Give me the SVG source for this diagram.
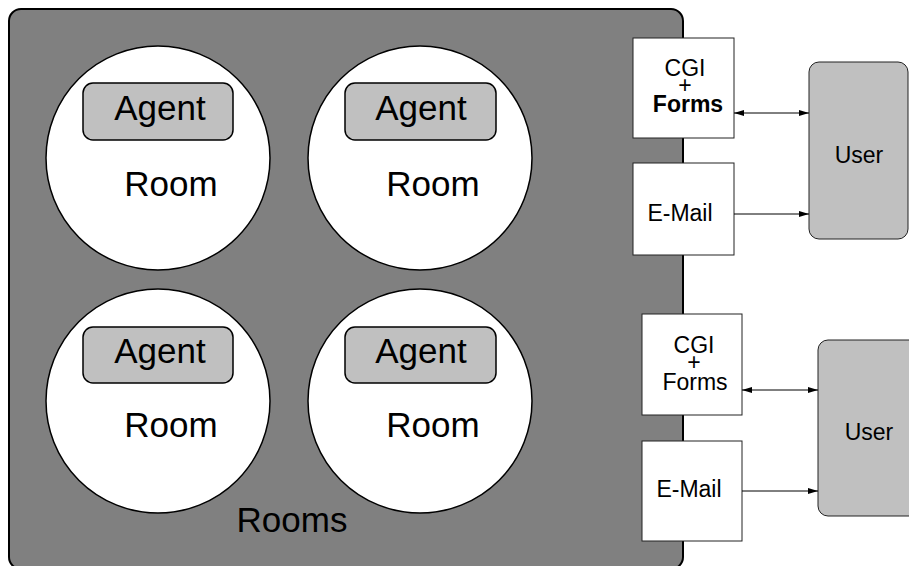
<svg xmlns="http://www.w3.org/2000/svg" width="909" height="566" viewBox="0 0 909 566">
<style>
text{font-family:"Liberation Sans",Arial,sans-serif;fill:#000}
.big{font-size:35px;text-anchor:middle}
.sm{font-size:23px;text-anchor:middle}
.room{fill:#fff;stroke:#000;stroke-width:1.5}
.agent{fill:#c0c0c0;stroke:#000;stroke-width:1.5}
.box{fill:#fff;stroke:#222;stroke-width:1}
.user{fill:#c0c0c0;stroke:#222;stroke-width:1}
.conn line{stroke:#000;stroke-width:1}
</style>
<defs>
<marker id="ah" viewBox="0 0 10 6" refX="10" refY="3" markerWidth="10" markerHeight="6" markerUnits="userSpaceOnUse" orient="auto-start-reverse">
<path d="M0,0 L10,3 L0,6 Z" fill="#000"/>
</marker>
</defs>
<g id="rooms">
<rect x="9" y="9" width="674" height="560" rx="12" fill="#808080" stroke="#000" stroke-width="2"/>
<text class="big" x="292" y="532">Rooms</text>
</g>
<g id="room1">
<circle class="room" cx="158" cy="158" r="112"/>
<rect class="agent" x="83" y="83" width="150" height="57" rx="10"/>
<text class="big" x="160" y="120">Agent</text>
<text class="big" x="171" y="196">Room</text>
</g>
<g id="room2">
<circle class="room" cx="420" cy="158" r="112"/>
<rect class="agent" x="345" y="83" width="151" height="57" rx="10"/>
<text class="big" x="421" y="120">Agent</text>
<text class="big" x="433" y="196">Room</text>
</g>
<g id="room3">
<circle class="room" cx="158" cy="401" r="112"/>
<rect class="agent" x="83" y="327" width="150" height="56" rx="10"/>
<text class="big" x="160" y="363">Agent</text>
<text class="big" x="171" y="437">Room</text>
</g>
<g id="room4">
<circle class="room" cx="420" cy="401" r="112"/>
<rect class="agent" x="345" y="327" width="151" height="56" rx="10"/>
<text class="big" x="421" y="363">Agent</text>
<text class="big" x="433" y="437">Room</text>
</g>
<g id="cgi1">
<rect class="box" x="633" y="38" width="101" height="100"/>
<text class="sm" x="685" y="76">CGI</text>
<text class="sm" x="685" y="93">+</text>
<text class="sm" x="688" y="112" font-weight="bold">Forms</text>
</g>
<g id="email1">
<rect class="box" x="633" y="163" width="101" height="92"/>
<text class="sm" x="680" y="221">E-Mail</text>
</g>
<g id="user1">
<rect class="user" x="809" y="62" width="99" height="177" rx="10"/>
<text class="sm" x="859" y="163">User</text>
</g>
<g id="cgi2">
<rect class="box" x="642" y="314" width="100" height="101"/>
<text class="sm" x="694" y="353">CGI</text>
<text class="sm" x="694" y="370">+</text>
<text class="sm" x="695" y="390">Forms</text>
</g>
<g id="email2">
<rect class="box" x="642" y="441" width="100" height="100"/>
<text class="sm" x="689" y="497">E-Mail</text>
</g>
<g id="user2">
<rect class="user" x="818" y="340" width="110" height="176" rx="10"/>
<text class="sm" x="869" y="440">User</text>
</g>
<g class="conn" id="connectors">
<line x1="734" y1="113" x2="809" y2="113" marker-start="url(#ah)" marker-end="url(#ah)"/>
<line x1="734" y1="214" x2="809" y2="214" marker-end="url(#ah)"/>
<line x1="742" y1="390" x2="818" y2="390" marker-start="url(#ah)" marker-end="url(#ah)"/>
<line x1="742" y1="491" x2="818" y2="491" marker-end="url(#ah)"/>
</g>
</svg>
